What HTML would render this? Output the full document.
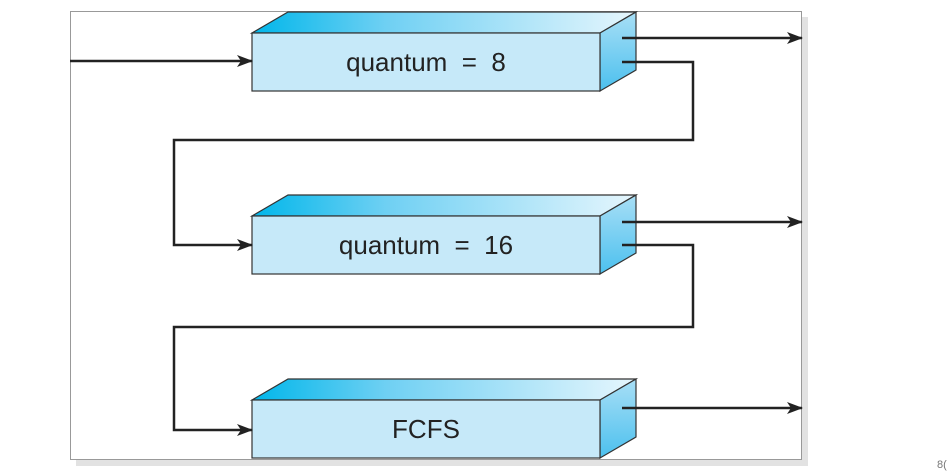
<!DOCTYPE html>
<html><head><meta charset="utf-8"><style>
html,body{margin:0;padding:0;background:#fff;width:948px;height:474px;overflow:hidden}
svg text{font-family:"Liberation Sans",sans-serif}
</style></head><body>
<svg width="948" height="474" viewBox="0 0 948 474">
<defs>
<linearGradient id="topg" x1="0" x2="1" y1="0" y2="0">
<stop offset="0" stop-color="#00b6ea"/><stop offset="0.35" stop-color="#6fd0f3"/><stop offset="1" stop-color="#e6f6fd"/>
</linearGradient>
<linearGradient id="sideg" x1="0" x2="0" y1="0" y2="1">
<stop offset="0" stop-color="#a8dff6"/><stop offset="1" stop-color="#4cc0ee"/>
</linearGradient>
<marker id="ah" markerWidth="16" markerHeight="12" refX="15" refY="6" orient="auto" markerUnits="userSpaceOnUse">
<path d="M0,0 L16,6 L0,12 L4,6 Z" fill="#222"/>
</marker>
</defs>
<rect x="76" y="17" width="732" height="449" fill="#e2e2e2"/>
<rect x="70.5" y="11.5" width="731" height="448" fill="#fff" stroke="#999" stroke-width="1"/>
<g transform="translate(0,0)">
<polygon points="252,33 288,12 636,12 600,33" fill="url(#topg)" stroke="#333" stroke-width="1.2"/>
<polygon points="600,33 636,12 636,70 600,91" fill="url(#sideg)" stroke="#333" stroke-width="1.2"/>
<rect x="252" y="33" width="348" height="58" fill="#c6e9f9" stroke="#333" stroke-width="1.2"/>
<text x="426" y="71" font-size="26" text-anchor="middle" fill="#222" xml:space="preserve">quantum  =  8</text>
</g>
<g transform="translate(0,183)">
<polygon points="252,33 288,12 636,12 600,33" fill="url(#topg)" stroke="#333" stroke-width="1.2"/>
<polygon points="600,33 636,12 636,70 600,91" fill="url(#sideg)" stroke="#333" stroke-width="1.2"/>
<rect x="252" y="33" width="348" height="58" fill="#c6e9f9" stroke="#333" stroke-width="1.2"/>
<text x="426" y="71" font-size="26" text-anchor="middle" fill="#222" xml:space="preserve">quantum  =  16</text>
</g>
<g transform="translate(0,367)">
<polygon points="252,33 288,12 636,12 600,33" fill="url(#topg)" stroke="#333" stroke-width="1.2"/>
<polygon points="600,33 636,12 636,70 600,91" fill="url(#sideg)" stroke="#333" stroke-width="1.2"/>
<rect x="252" y="33" width="348" height="58" fill="#c6e9f9" stroke="#333" stroke-width="1.2"/>
<text x="426" y="71" font-size="26" text-anchor="middle" fill="#222">FCFS</text>
</g>
<g stroke="#222" stroke-width="2.5" fill="none">
<path d="M70,61 H252" marker-end="url(#ah)"/>
<path d="M622,38 H802" marker-end="url(#ah)"/>
<path d="M622,62 H693 V140 H174 V245 H252" marker-end="url(#ah)"/>
<path d="M622,222 H802" marker-end="url(#ah)"/>
<path d="M622,245 H693 V327 H174 V430 H252" marker-end="url(#ah)"/>
<path d="M622,408 H802" marker-end="url(#ah)"/>
</g>
<text x="937" y="468" font-size="11" fill="#777">8(</text>
</svg>
</body></html>
